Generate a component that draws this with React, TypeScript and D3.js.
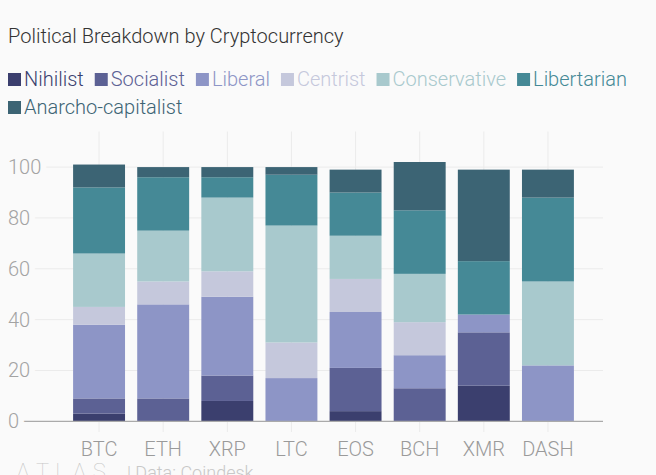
import React, { useRef, useEffect } from "react";
import * as d3 from "d3";

const coins = ["BTC", "ETH", "XRP", "LTC", "EOS", "BCH", "XMR", "DASH"];
const seriesNames = [
  "Nihilist",
  "Socialist",
  "Liberal",
  "Centrist",
  "Conservative",
  "Libertarian",
  "Anarcho-capitalist",
];
const nihilist = [3, 0, 8, 0, 4, 0, 14, 0];
const socialist = [6, 9, 10, 0, 17, 13, 21, 0];
const liberal = [29, 37, 31, 17, 22, 13, 7, 22];
const centrist = [7, 9, 10, 14, 13, 13, 0, 0];
const conservative = [21, 20, 29, 46, 17, 19, 0, 33];
const libertarian = [26, 21, 8, 20, 17, 25, 21, 33];
const anarcho = [9, 4, 4, 3, 9, 19, 36, 11];
const yTicks = [0, 20, 40, 60, 80, 100];

const colors = ["#3b3f6e", "#5c6194", "#8d95c6", "#c5c8dc", "#a8c9cd", "#458996", "#3c6474"];

const BG = "#fafafa";
const FONT = "Roboto, 'Noto Sans', sans-serif";

export default function App() {
  const svgRef = useRef<SVGSVGElement>(null);

  useEffect(() => {
    if (!svgRef.current) return;
    document.body.style.margin = "0";
    document.body.style.background = BG;

    const width = 656;
    const height = 475;
    const svg = d3.select(svgRef.current).attr("width", width).attr("height", height);
    svg.selectAll("*").remove();

    svg.append("rect").attr("width", width).attr("height", height).attr("fill", BG);

    const allSeries = [nihilist, socialist, liberal, centrist, conservative, libertarian, anarcho];
    const rows = coins.map((c, i) => {
      const r: { [k: string]: any } = { coin: c };
      seriesNames.forEach((s, j) => (r[s] = allSeries[j][i]));
      return r;
    });

    const stacked = d3.stack().keys(seriesNames)(rows as any);

    const x = d3.scaleBand().domain(coins).range([67, 580]).paddingInner(0.19).paddingOuter(0.095);
    const y = d3.scaleLinear().domain([0, 114]).range([421.3, 131.5]);
    const plotRight = 603;

    // title
    svg
      .append("text")
      .attr("x", 8)
      .attr("y", 43)
      .attr("font-family", FONT)
      .attr("font-weight", 300)
      .attr("font-size", 20)
      .attr("fill", "#333")
      .text("Political Breakdown by Cryptocurrency");

    // legend
    const legend = svg.append("g");
    let lx = 8;
    let ly = 86;
    seriesNames.forEach((name, i) => {
      const g = legend.append("g");
      const t = g
        .append("text")
        .attr("font-family", FONT)
        .attr("font-weight", 300)
        .attr("font-size", 20)
        .attr("fill", colors[i])
        .text(name);
      const tw = (t.node() as SVGTextElement).getComputedTextLength();
      const itemW = 16 + tw;
      if (lx + itemW > 640) {
        lx = 8;
        ly += 28;
      }
      g.append("rect")
        .attr("x", lx)
        .attr("y", ly - 13)
        .attr("width", 13)
        .attr("height", 13)
        .attr("fill", colors[i]);
      t.attr("x", lx + 16).attr("y", ly);
      lx += itemW + 11;
    });

    // vertical grid lines + ticks
    svg
      .append("g")
      .selectAll("line")
      .data(coins)
      .enter()
      .append("line")
      .attr("x1", (d) => x(d)! + x.bandwidth() / 2)
      .attr("x2", (d) => x(d)! + x.bandwidth() / 2)
      .attr("y1", y(114))
      .attr("y2", 432)
      .attr("stroke", "#ebebeb")
      .attr("stroke-width", 1);

    // horizontal grid lines
    svg
      .append("g")
      .selectAll("line")
      .data(yTicks.filter((d) => d > 0))
      .enter()
      .append("line")
      .attr("x1", 8)
      .attr("x2", plotRight)
      .attr("y1", (d) => y(d))
      .attr("y2", (d) => y(d))
      .attr("stroke", "#ebebeb")
      .attr("stroke-width", 1);

    // bars
    svg
      .append("g")
      .selectAll("g")
      .data(stacked)
      .enter()
      .append("g")
      .attr("fill", (_d, i) => colors[i])
      .selectAll("rect")
      .data((d) => d)
      .enter()
      .append("rect")
      .attr("x", (d: any) => x(d.data.coin)!)
      .attr("width", x.bandwidth())
      .attr("y", (d) => y(d[1]))
      .attr("height", (d) => y(d[0]) - y(d[1]));

    // baseline
    svg
      .append("line")
      .attr("x1", 8)
      .attr("x2", plotRight)
      .attr("y1", y(0))
      .attr("y2", y(0))
      .attr("stroke", "#aaa")
      .attr("stroke-width", 1.3);

    // y labels with background halo
    svg
      .append("g")
      .selectAll("text")
      .data(yTicks)
      .enter()
      .append("text")
      .attr("x", 8)
      .attr("y", (d) => y(d) + 7)
      .attr("font-family", FONT)
      .attr("font-weight", 300)
      .attr("font-size", 20)
      .attr("fill", "#a3a3a3")
      .attr("stroke", BG)
      .attr("stroke-width", 12)
      .attr("paint-order", "stroke")
      .text((d) => String(d));

    // x labels
    svg
      .append("g")
      .selectAll("text")
      .data(coins)
      .enter()
      .append("text")
      .attr("x", (d) => x(d)! + x.bandwidth() / 2)
      .attr("y", 456)
      .attr("text-anchor", "middle")
      .attr("font-family", FONT)
      .attr("font-weight", 300)
      .attr("font-size", 20)
      .attr("fill", "#9a9a9a")
      .text((d) => d);

    // footer
    svg
      .append("text")
      .attr("x", 16)
      .attr("y", 479)
      .attr("font-family", FONT)
      .attr("font-weight", 100)
      .attr("font-size", 22)
      .attr("letter-spacing", 6)
      .attr("fill", "#c8c8c8")
      .text("ΛTLΛS");
    svg
      .append("text")
      .attr("x", 127)
      .attr("y", 479)
      .attr("font-family", FONT)
      .attr("font-weight", 300)
      .attr("font-size", 18)
      .attr("fill", "#c8c8c8")
      .text("| Data: Coindesk");

    return () => {
      svg.selectAll("*").remove();
    };
  }, []);

  return (
    <div style={{ position: "relative", width: 656, height: 475, overflow: "hidden" }}>
      <svg ref={svgRef} style={{ display: "block" }}></svg>
    </div>
  );
}
